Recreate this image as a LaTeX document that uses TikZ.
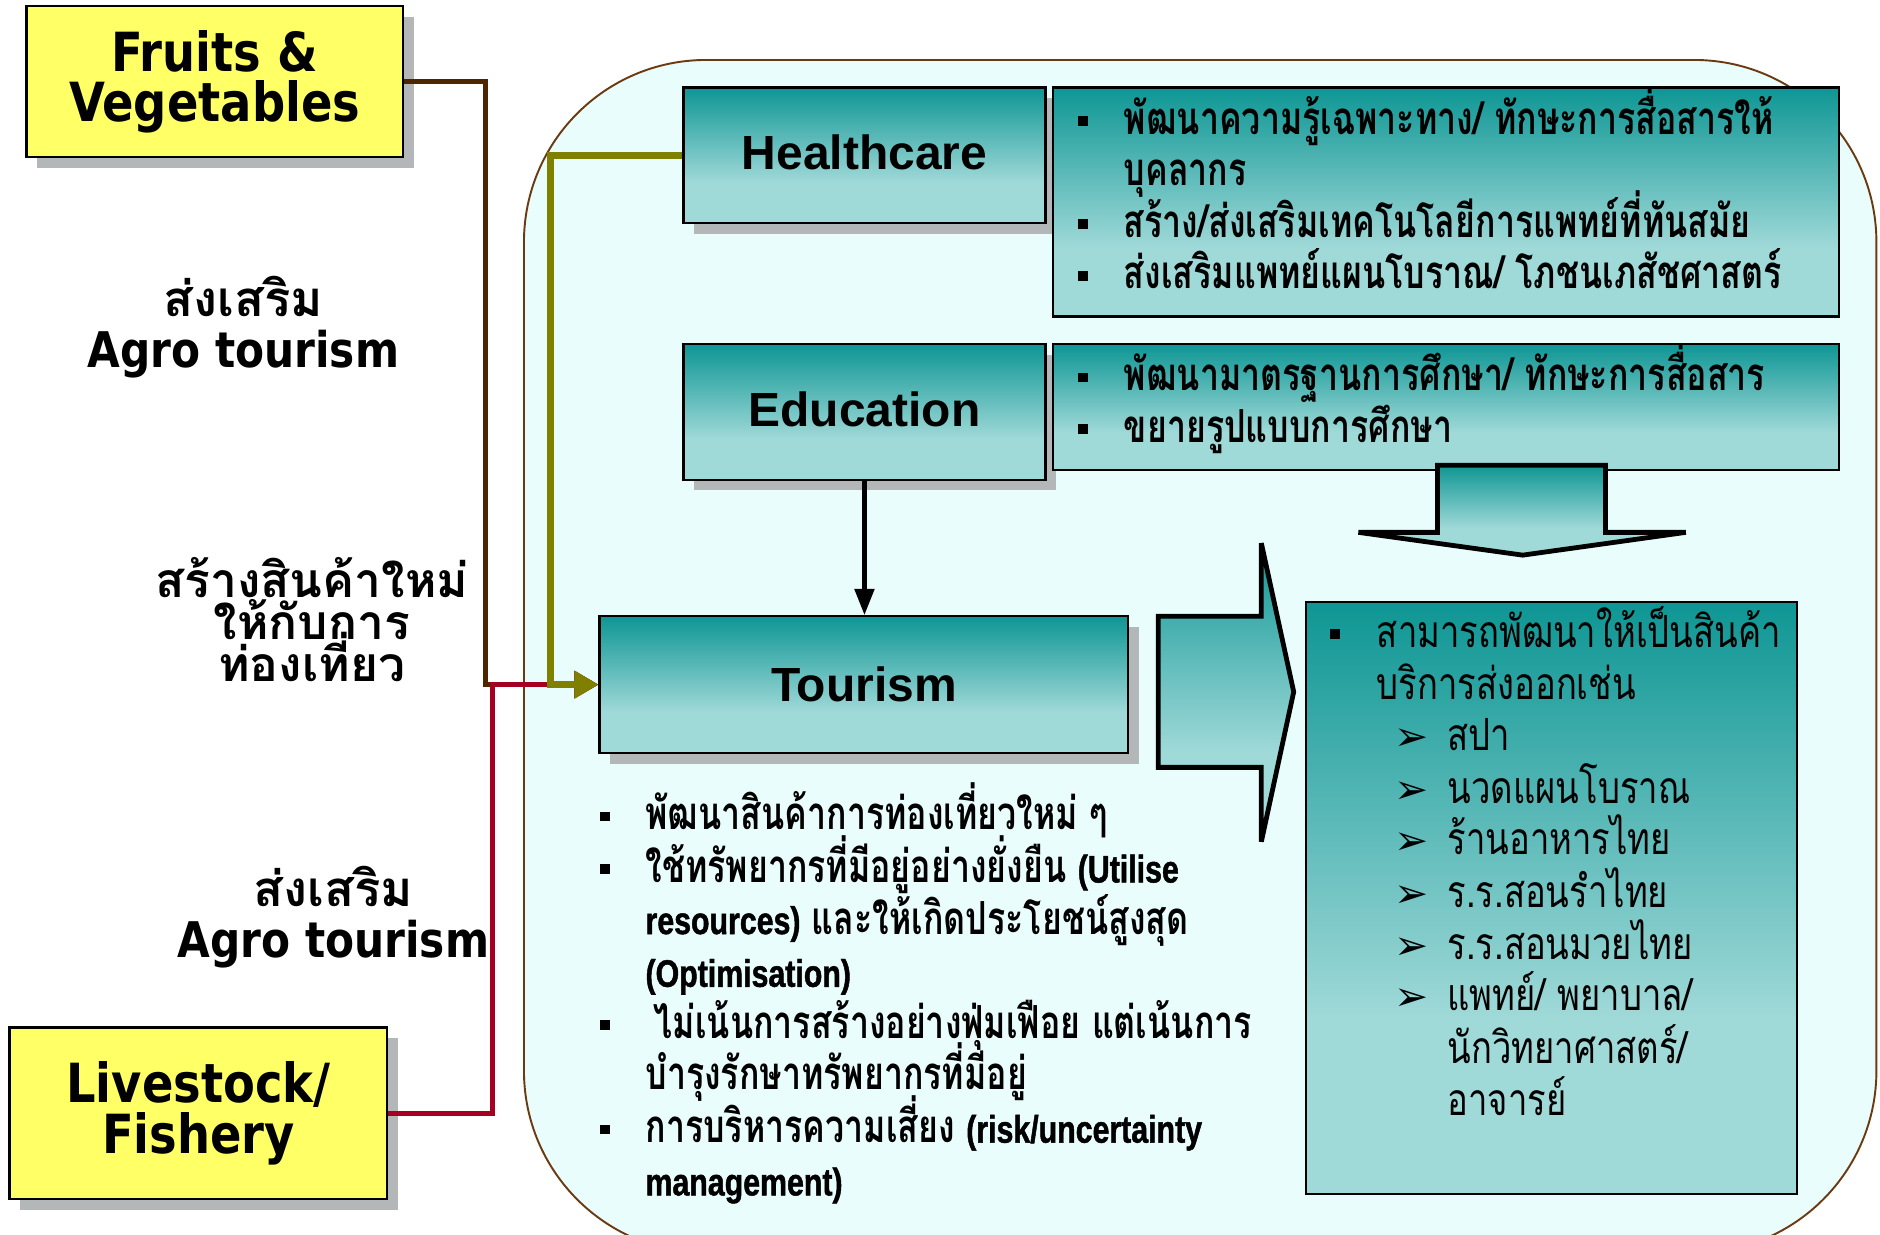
\documentclass[tikz,border=0pt]{standalone}
\usepackage{fontspec}
\usetikzlibrary{arrows.meta}
\newfontfamily\thaib[Script=Thai]{Loma}
\newfontfamily\thain[Script=Thai,FakeStretch=0.745]{Loma}
\newfontfamily\thair[Script=Thai,FakeStretch=0.78]{Loma}
\newfontfamily\tahomaf[FakeStretch=0.86]{DejaVu Sans}
\newfontfamily\arialf{Liberation Sans}
\newfontfamily\narrowf[FakeStretch=0.79,BoldFeatures={FakeBold=1.2}]{Liberation Sans}
\newfontfamily\symf{DejaVu Sans}
\definecolor{yel}{HTML}{FFFF66}
\definecolor{bgc}{HTML}{EAFDFD}
\definecolor{rim}{HTML}{6B3A10}
\definecolor{brn}{HTML}{4D2600}
\definecolor{crim}{HTML}{A50021}
\definecolor{olv}{HTML}{808000}
\definecolor{tD}{HTML}{0E9694}
\definecolor{tL}{HTML}{9FD9D8}
\definecolor{shd}{HTML}{B3B7B7}
\pgfdeclareverticalshading{tealsh}{100bp}{color(0bp)=(tL); color(40bp)=(tL); color(75bp)=(tD); color(100bp)=(tD)}
\newcommand\sqb{\llap{\rule[3.5pt]{4pt}{4pt}\hspace{15pt}}}
\newcommand\arb{\llap{{\symf\fontsize{17pt}{17pt}\selectfont ➢}\hspace{8pt}}}
\newcommand\tightls{\setlength{\lineskiplimit}{-60pt}}
\newcommand\latn{\narrowf\fontsize{16pt}{16pt}\selectfont}
\tikzset{
  shadowed/.style={preaction={fill=shd, transform canvas={shift={(4.5pt,-4.5pt)}}}},
  yelbox/.style={draw=black, line width=1pt, fill=yel, shadowed, inner sep=0pt, align=center,
     font=\tahomaf\bfseries\fontsize{22.5pt}{21pt}\selectfont},
  tealbox/.style={draw=black, line width=0.9pt, shading=tealsh, inner sep=0pt},
  headbox/.style={tealbox, shadowed, minimum width=151pt, minimum height=56.5pt,
     font=\arialf\bfseries\fontsize{20pt}{20pt}\selectfont},
  lbl/.style={inner sep=0pt, align=center},
  tl/.style={anchor=base west, inner sep=0pt},
  blockarrow/.style={draw=black, line width=2pt, line join=miter, miter limit=2.5, shading=tealsh},
  conn/.style={line width=2pt, -{Triangle[length=10pt,width=11pt]}},
}
\begin{document}
\begin{tikzpicture}[x=0.5pt,y=-0.5pt]
\useasboundingbox (0,0) rectangle (1568,1030);
% big light region
\begin{scope}
\clip (0,0) rectangle (1568,1030);
\draw[rim, fill=bgc, line width=0.8pt, rounded corners=76pt] (437,50) rectangle (1565,1045);
\end{scope}
% boxes
\node[yelbox, minimum width=157pt, minimum height=63pt] (fruits) at (179,68) {Fruits \&\\Vegetables};
\node[yelbox, minimum width=157.5pt, minimum height=71.5pt] (live) at (165.5,928.5) {Livestock/\\Fishery};
\node[headbox] (health) at (721,129.5) {\raisebox{2.25pt}{Healthcare}};
\node[headbox] (edu) at (721,343.5) {\raisebox{2.25pt}{Education}};
\node[tealbox, minimum width=328pt, minimum height=95.5pt] (hbul) at (1206,168.5) {};
\node[tealbox, minimum width=328pt, minimum height=52.5pt] (ebul) at (1206,339.5) {};
\node[headbox, minimum width=220.5pt, minimum height=57pt] (tour) at (720.5,571) {\raisebox{0.5pt}{Tourism}};
\node[tealbox, minimum width=205pt, minimum height=247pt] (res) at (1294,749) {};
% block arrows
\draw[blockarrow] (1199,388) -- (1339,388) -- (1339,444) -- (1406,444) -- (1270,463) -- (1133,444) -- (1199,444) -- cycle;
\draw[blockarrow] (966,514) -- (1052,514) -- (1052,453) -- (1079,577) -- (1052,702) -- (1052,640) -- (966,640) -- cycle;
% connectors
\coordinate (bj) at (405,571);
\coordinate (rj) at (411,571);
\coordinate (oj) at (459,571);
\draw[conn, brn] (fruits.east) -| (bj) -- (tour.west);
\draw[conn, crim] (live.east) -| (rj) -- (tour.west);
\draw[conn, olv, line width=2.7pt] (health.west) -| (oj) -- (tour.west);
\draw[line width=2pt, -{Triangle[length=11pt,width=8pt]}] (edu.south) -- (edu.south |- tour.north);
% left labels
\node[lbl, font=\fontsize{20.5pt}{21.5pt}\selectfont\tightls] (lab1) at (203,273) {{\thaib\bfseries ส่งเสริม}\\{\tahomaf\bfseries Agro tourism}};
\node[lbl, font=\thaib\bfseries\fontsize{20pt}{17.5pt}\selectfont\tightls] (lab2) at (260,517) {สร้างสินค้าใหม่\\ให้กับการ\\ท่องเที่ยว};
\node[lbl, font=\fontsize{20.5pt}{21.5pt}\selectfont\tightls] (lab3) at (278,765) {{\thaib\bfseries ส่งเสริม}\\{\tahomaf\bfseries Agro tourism}};
% healthcare bullets
\begin{scope}[every node/.style={tl, font=\thain\bfseries\fontsize{19pt}{19pt}\selectfont}]
\node (h1) at (937,112) {\sqb พัฒนาความรู้เฉพาะทาง/ ทักษะการสื่อสารให้};
\node (h2) at (937,155) {บุคลากร};
\node (h3) at (937,198) {\sqb สร้าง/ส่งเสริมเทคโนโลยีการแพทย์ที่ทันสมัย};
\node (h4) at (937,241) {\sqb ส่งเสริมแพทย์แผนโบราณ/ โภชนเภสัชศาสตร์};
\node (e1) at (937,326) {\sqb พัฒนามาตรฐานการศึกษา/ ทักษะการสื่อสาร};
\node (e2) at (937,369) {\sqb ขยายรูปแบบการศึกษา};
\end{scope}
% tourism bullets
\begin{scope}[every node/.style={tl, font=\thain\bfseries\fontsize{19pt}{19pt}\selectfont}]
\node (t1) at (538,692) {\sqb พัฒนาสินค้าการท่องเที่ยวใหม่ ๆ};
\node (t2) at (538,736) {\sqb ใช้ทรัพยากรที่มีอยู่อย่างยั่งยืน {\latn (Utilise}};
\node (t3) at (538,779) {{\latn resources)} และให้เกิดประโยชน์สูงสุด};
\node (t4) at (538,823) {\latn (Optimisation)};
\node (t5) at (545,866) {\llap{\rule[3.5pt]{4pt}{4pt}\hspace{18.5pt}}ไม่เน้นการสร้างอย่างฟุ่มเฟือย แต่เน้นการ};
\node (t6) at (538,909) {บำรุงรักษาทรัพยากรที่มีอยู่};
\node (t7) at (538,953) {\sqb การบริหารความเสี่ยง {\latn (risk/uncertainty}};
\node (t8) at (538,997) {\latn management)};
\end{scope}
% result box text
\begin{scope}[every node/.style={tl, font=\thair\fontsize{18.5pt}{18.5pt}\selectfont}]
\node (r1) at (1148,540) {\llap{\rule[3.5pt]{4pt}{4pt}\hspace{15.5pt}}สามารถพัฒนาให้เป็นสินค้า};
\node (r2) at (1148,583) {บริการส่งออกเช่น};
\node (r3) at (1207,626) {\arb สปา};
\node (r4) at (1207,670) {\arb นวดแผนโบราณ};
\node (r5) at (1207,713) {\arb ร้านอาหารไทย};
\node (r6) at (1207,757) {\arb ร.ร.สอนรำไทย};
\node (r7) at (1207,800) {\arb ร.ร.สอนมวยไทย};
\node (r8) at (1207,843) {\arb แพทย์/ พยาบาล/};
\node (r9) at (1207,887) {นักวิทยาศาสตร์/};
\node (r10) at (1207,930) {อาจารย์};
\end{scope}
\end{tikzpicture}
\end{document}
